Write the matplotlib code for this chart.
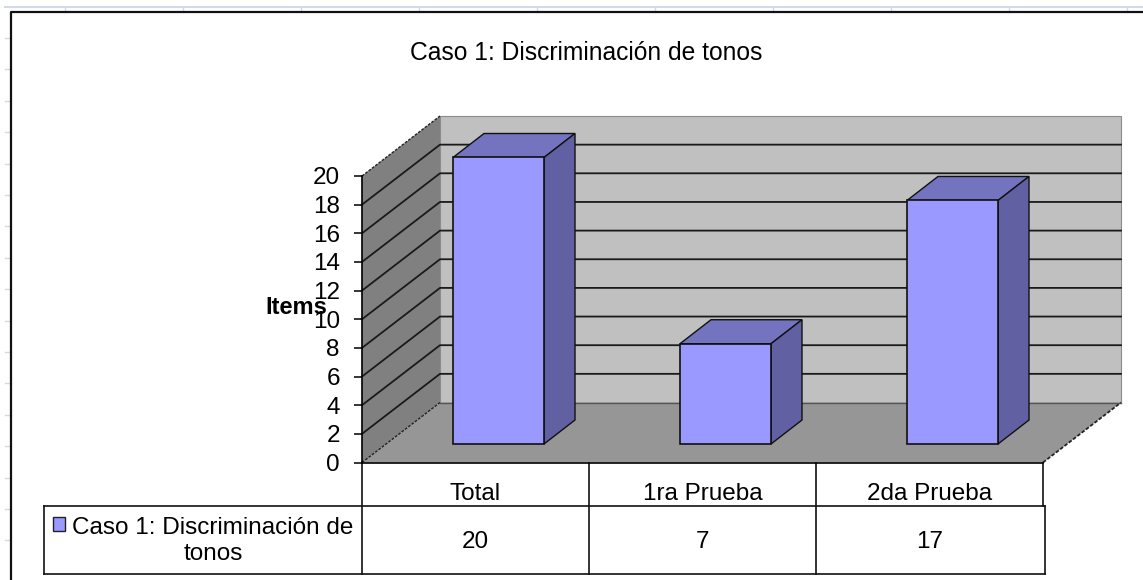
import matplotlib
matplotlib.use("Agg")
import matplotlib.pyplot as plt
from matplotlib.patches import Polygon, Rectangle

plt.rcParams['font.family'] = ['Liberation Sans', 'DejaVu Sans']

title = "Caso 1: Discriminación de tonos"
ylabel = "Items"
categories = ["Total", "1ra Prueba", "2da Prueba"]
values = [20, 7, 17]
yticks = list(range(0, 21, 2))
series_name = ["Caso 1: Discriminación de", "tonos"]

W, H = 1143, 580
fs = 17.5
fig = plt.figure(figsize=(W / 100, H / 100), dpi=100, facecolor="white")

# pixel layer for the sheet, frame and table
bg = fig.add_axes([0, 0, 1, 1], zorder=0)
bg.set_xlim(0, W)
bg.set_ylim(H, 0)
bg.axis("off")

grid_col = "#d3d9ea"
bg.plot([5, W], [7, 7], color=grid_col, lw=1.5)
for x in range(65, W, 118):
    bg.plot([x, x], [7, 12], color=grid_col, lw=1)
for i in range(17):
    y = 38 + 31.4 * i
    bg.plot([5, 11], [y, y], color=grid_col, lw=1)
bg.plot([11, 11, W], [H, 12, 12], color="#111111", lw=1.6)

# front plane of the plot, in data units
x0, x1, y0, y1 = 362, 1043, 462.5, 176
ax = fig.add_axes([x0 / W, 1 - y0 / H, (x1 - x0) / W, (y0 - y1) / H], zorder=1)
ax.patch.set_alpha(0)
ax.set_xlim(0, len(categories))
ax.set_ylim(0, 20)
for s in ["top", "right", "bottom"]:
    ax.spines[s].set_visible(False)
ax.spines["left"].set_linewidth(1.2)
ax.set_xticks([])
ax.set_yticks(yticks)
ax.tick_params(axis="y", length=6, width=1.1, pad=10, labelsize=fs)

unit_x = (x1 - x0) / len(categories)
unit_y = (y0 - y1) / 20
dx, dy = 78 / unit_x, 60 / unit_y
n = len(categories)
top = yticks[-1]


def poly(pts, fc, ec="none", lw=0.8, ls="-", z=1):
    ax.add_patch(Polygon(pts, closed=True, facecolor=fc, edgecolor=ec, lw=lw, ls=ls,
                         zorder=z, clip_on=False))


# walls and floor
poly([(dx, dy), (n + dx, dy), (n + dx, top + dy), (dx, top + dy)], "#c0c0c0", "#8c8c8c")
poly([(0, 0), (dx, dy), (dx, top + dy), (0, top)], "#808080")
poly([(0, 0), (n, 0), (n + dx, dy), (dx, dy)], "#969696")
for v in yticks[1:-1]:
    ax.plot([0, dx, n + dx], [v, v + dy, v + dy], color="#1a1a1a", lw=1.3, zorder=2, clip_on=False)
dash = (0, (2, 1))
ax.plot([0, dx], [top, top + dy], color="#222222", lw=1, ls=dash, zorder=2, clip_on=False)
ax.plot([0, dx], [0, dy], color="#222222", lw=1, ls=dash, zorder=2, clip_on=False)
ax.plot([n, n + dx], [0, dy], color="#222222", lw=1.3, ls=dash, zorder=2, clip_on=False)
ax.plot([dx, n + dx], [dy, dy], color="#555555", lw=1, zorder=2, clip_on=False)
ax.plot([0, n], [0, 0], color="black", lw=1.2, zorder=3, clip_on=False)

# bars
bar_w = 91 / unit_x
lift = 18.5 / unit_y
shift = 23 / unit_x
bdx, bdy = 31 / unit_x, 24 / unit_y
for i, v in enumerate(values):
    l = i + 0.5 + shift - bar_w / 2
    r = l + bar_w
    b = lift
    t = lift + v
    poly([(l, t), (r, t), (r + bdx, t + bdy), (l + bdx, t + bdy)], "#7373c0", "#111111", 1, z=4)
    poly([(r, b), (r + bdx, b + bdy), (r + bdx, t + bdy), (r, t)], "#6060a2", "#111111", 1, z=4)
    poly([(l, b), (r, b), (r, t), (l, t)], "#9999ff", "#111111", 1.2, z=5)

# title and axis label, the label sits over the tick numbers as in the original
lab = fig.add_axes([0, 0, 1, 1], zorder=3)
lab.set_xlim(0, W)
lab.set_ylim(H, 0)
lab.axis("off")
lab.text(586, 53, title, ha="center", va="center", fontsize=17.7)
lab.text(296.5, 307, ylabel, ha="center", va="center", fontsize=17, fontweight="bold")

# data table
tc = "#111111"
cols = [x0 + unit_x * i for i in range(n + 1)]
for x in cols[:-1]:
    bg.plot([x, x], [462, 574], color=tc, lw=1.2)
bg.plot([cols[-1], cols[-1]], [462, 506], color=tc, lw=1.2)
bg.plot([1045, 1045], [506, 574], color=tc, lw=1.2)
bg.plot([44, 1045], [506, 506], color=tc, lw=1.2)
bg.plot([44, 1045], [574, 574], color=tc, lw=1.2)
bg.plot([44, 44], [506, 574], color=tc, lw=1.2)
for i, (c, v) in enumerate(zip(categories, values)):
    xc = x0 + unit_x * (i + 0.5)
    bg.text(xc, 494, c, ha="center", va="center", fontsize=fs)
    bg.text(xc, 542, str(v), ha="center", va="center", fontsize=fs)
bg.add_patch(Rectangle((53, 517), 12, 14, facecolor="#9999ff", edgecolor="#222222", lw=1))
bg.text(213, 528, series_name[0], ha="center", va="center", fontsize=fs)
bg.text(213, 554, series_name[1], ha="center", va="center", fontsize=fs)

fig.savefig("out.png", dpi=100)
